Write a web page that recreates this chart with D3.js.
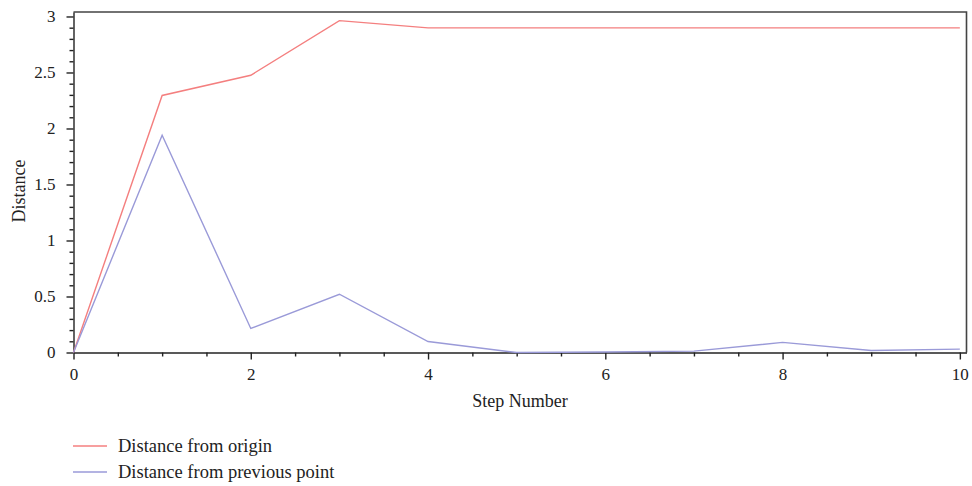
<!DOCTYPE html>
<html>
<head>
<meta charset="utf-8">
<script src="https://cdn.jsdelivr.net/npm/d3@7"></script>
<style>
  html, body { margin: 0; padding: 0; background: #fff; }
  svg { display: block; }
  text { font-family: "Liberation Serif", "Times New Roman", serif; fill: #222; }
</style>
</head>
<body>
<svg id="chart" width="972" height="486"></svg>
<script>
// Step numbers along the x axis
const steps = [0, 1, 2, 3, 4, 5, 6, 7, 8, 9, 10];
// Distance of each step from the origin
const fromOrigin = [0, 2.295, 2.475, 2.963, 2.898, 2.898, 2.898, 2.898, 2.898, 2.898, 2.898];
// Distance of each step from the step before it
const fromPrevious = [0, 1.94, 0.215, 0.52, 0.098, 0.0, 0.005, 0.012, 0.09, 0.018, 0.03];
const seriesNames = ["Distance from origin", "Distance from previous point"];
const seriesColors = ["#f47f7f", "#9a9ad8"];
const xMajorTicks = [0, 2, 4, 6, 8, 10];
const yMajorTicks = [0, 0.5, 1, 1.5, 2, 2.5, 3];

const svg = d3.select("#chart");
const m = { left: 73.5, top: 12, right: 966.5, bottom: 352.5 };

const x = d3.scaleLinear().domain([0, 10.075]).range([m.left, m.right]);
const y = d3.scaleLinear().domain([0, 3.04]).range([m.bottom, m.top]);

// Frame: top and right edges
svg.append("path")
  .attr("d", `M${m.left},${m.top}H${m.right}V${m.bottom}`)
  .attr("fill", "none").attr("stroke", "#444").attr("stroke-width", 1.6);

// X axis with minor ticks every 0.5
const xMinor = d3.range(0, 10.01, 0.5).filter(v => v % 2 !== 0);
const gx = svg.append("g").attr("transform", `translate(0,${m.bottom})`);
gx.append("g").call(d3.axisBottom(x).tickValues(xMinor).tickSize(4).tickFormat(""))
  .call(g => g.select(".domain").remove());
gx.append("g").call(d3.axisBottom(x).tickValues(xMajorTicks).tickSize(7).tickPadding(8).tickSizeOuter(0))
  .call(g => g.selectAll("text").attr("font-size", 17).attr("font-family", "Liberation Serif").attr("fill", "#222"));
gx.selectAll("line, path").attr("stroke", "#222").attr("stroke-width", 1.4);

// Y axis with minor ticks every 0.1
const yMinor = d3.range(0, 30.5, 1).map(v => v / 10).filter(v => Math.round(v * 10) % 5 !== 0);
const gy = svg.append("g").attr("transform", `translate(${m.left},0)`);
gy.append("g").call(d3.axisLeft(y).tickValues(yMinor).tickSize(4).tickFormat(""))
  .call(g => g.select(".domain").remove());
gy.append("g").call(d3.axisLeft(y).tickValues(yMajorTicks).tickSize(7).tickPadding(11).tickSizeOuter(0).tickFormat(d3.format("")))
  .call(g => g.selectAll("text").attr("font-size", 17).attr("font-family", "Liberation Serif").attr("fill", "#222"));
gy.selectAll("line, path").attr("stroke", "#222").attr("stroke-width", 1.4);

// Axis titles
svg.append("text").attr("x", (m.left + m.right) / 2).attr("y", 407)
  .attr("text-anchor", "middle").attr("font-size", 18).text("Step Number");
svg.append("text").attr("transform", "translate(25,191) rotate(-90)")
  .attr("text-anchor", "middle").attr("font-size", 18).text("Distance");

// Series lines
const line = d3.line().x((d, i) => x(steps[i])).y(d => y(d));
[fromOrigin, fromPrevious].forEach((vals, k) => {
  svg.append("path").datum(vals)
    .attr("d", line)
    .attr("fill", "none")
    .attr("stroke", seriesColors[k])
    .attr("stroke-width", 1.4);
});

// Legend
const legend = svg.append("g");
seriesNames.forEach((name, k) => {
  const ly = 446 + k * 26;
  legend.append("line").attr("x1", 73).attr("x2", 107).attr("y1", ly).attr("y2", ly)
    .attr("stroke", seriesColors[k]).attr("stroke-width", 1.4);
  legend.append("text").attr("x", 118).attr("y", ly + 5.5)
    .attr("font-size", 18.5).text(name);
});
</script>
</body>
</html>
